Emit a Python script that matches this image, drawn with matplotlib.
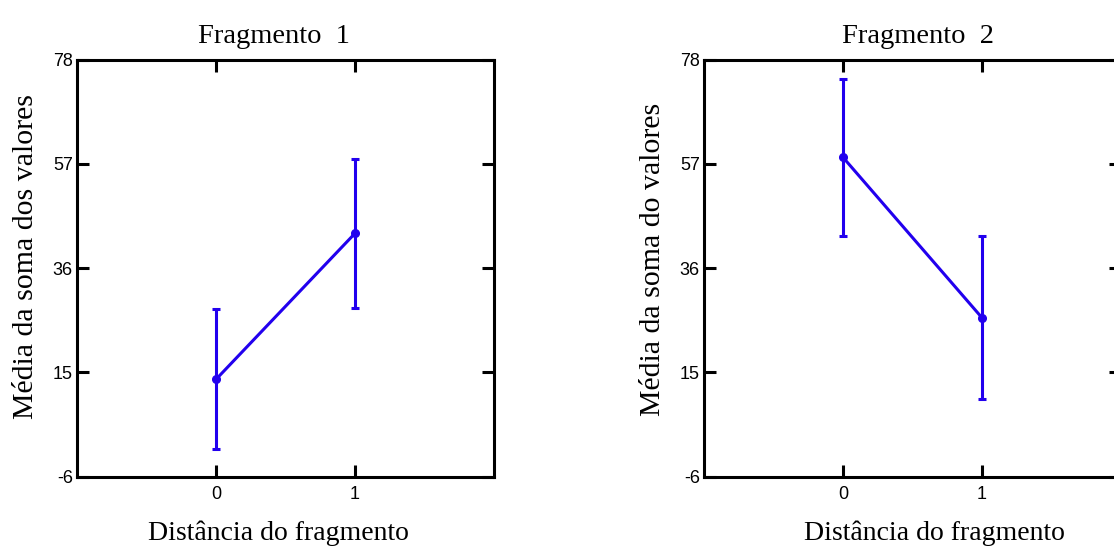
import matplotlib.pyplot as plt

# data
distancia = [0, 1]
titulos = ["Fragmento  1", "Fragmento  2"]
ylabels = ["Média da soma dos valores", "Média da soma do valores"]
medias_f1 = [13.6, 43.0]
erros_f1 = [14.1, 15.0]
medias_f2 = [58.3, 26.0]
erros_f2 = [15.8, 16.4]
yticks = [-6, 15, 36, 57, 78]

azul = "#2200ee"
serif = ["Liberation Serif", "DejaVu Serif"]
sans = ["Liberation Sans", "DejaVu Sans"]
plt.rcParams["axes.unicode_minus"] = False

fig = plt.figure(figsize=(11.14, 5.47), dpi=100)
W, H = 1114, 547
# axes boxes in pixels: left, top, right, bottom
caixas = [(77, 59.5, 494, 476.7), (704, 59.5, 1121, 476.7)]
# small offsets of the texts, as in the original
titulo_x = [0.472, 0.513]
xlabel_x = [0.482, 0.552]
ylabel_y = [0.527, 0.522]

dados = [(medias_f1, erros_f1), (medias_f2, erros_f2)]
for i, (caixa, (med, err)) in enumerate(zip(caixas, dados)):
    l, t, r, b = caixa
    ax = fig.add_axes([l / W, 1 - b / H, (r - l) / W, (b - t) / H])
    ax.errorbar(distancia, med, yerr=err, color=azul, lw=2.2, marker="o",
                ms=5.5, capsize=3, capthick=2.2, elinewidth=2.2)
    ax.set_xlim(-1, 2)
    ax.set_ylim(-6, 78)
    ax.set_xticks(distancia)
    ax.set_yticks(yticks)
    ax.tick_params(direction="in", length=8.5, width=2.2, top=True, right=True,
                   labelsize=13)
    ax.tick_params(axis="y", pad=3)
    ax.tick_params(axis="x", pad=7)
    for lab in ax.get_xticklabels() + ax.get_yticklabels():
        lab.set_family(sans)
    for s in ax.spines.values():
        s.set_linewidth(2.2)
    ax.set_title(titulos[i], family=serif, fontsize=20.5, pad=12, x=titulo_x[i])
    ax.set_xlabel("Distância do fragmento", family=serif, fontsize=20, labelpad=12)
    ax.xaxis.label.set_x(xlabel_x[i])
    ax.set_ylabel(ylabels[i], family=serif, fontsize=21.5, labelpad=10)
    ax.yaxis.label.set_y(ylabel_y[i])

fig.savefig("out.png", dpi=100)
